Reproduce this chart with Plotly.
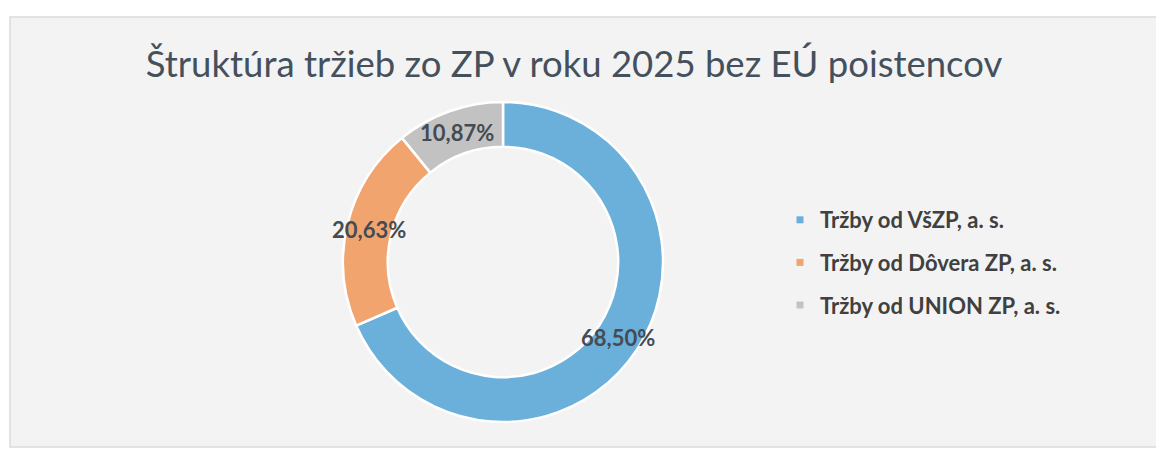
import math
import plotly.graph_objects as go

title_text = "Štruktúra tržieb zo ZP v roku 2025 bez EÚ poistencov"
categories = ["Tržby od VšZP, a. s.", "Tržby od Dôvera ZP, a. s.", "Tržby od UNION ZP, a. s."]
shares = [68.50, 20.63, 10.87]
colors = ["#6bb0da", "#f2a46f", "#c2c2c2"]

# figure size (page adds an 8px body margin)
W, H = 1156, 445

# pie geometry in figure pixels
CX, CY, R = 495, 254, 160
HOLE = 0.72

fig = go.Figure()

fig.add_trace(go.Pie(
    labels=categories,
    values=shares,
    sort=False,
    direction="clockwise",
    rotation=0,
    hole=HOLE,
    marker=dict(colors=colors, line=dict(color="#ffffff", width=2.5)),
    textinfo="none",
    domain=dict(x=[(CX - R) / W, (CX + R) / W], y=[(H - CY - R) / H, (H - CY + R) / H]),
    showlegend=False,
    hoverinfo="label+percent",
))

for name, col in zip(categories, colors):
    fig.add_trace(go.Scatter(
        x=[None], y=[None], mode="markers",
        marker=dict(symbol="square", size=7, color=col),
        name=name, legendgroup=name, showlegend=True,
    ))

# slice labels placed at the middle of each ring segment
annotations = []
total = sum(shares)
cum = 0.0
r_mid = R * (1 + HOLE) / 2
for v in shares:
    ang = 2 * math.pi * (cum + v / 2) / total
    cum += v
    px = CX + r_mid * math.sin(ang)
    py = CY - r_mid * math.cos(ang)
    annotations.append(dict(
        x=px / W, y=1 - py / H, xref="paper", yref="paper",
        text=f"{v:.2f}%".replace(".", ","), showarrow=False,
        xanchor="center", yanchor="middle",
        font=dict(family="Lato", size=22, color="#444b52", weight="bold"),
    ))

fig.update_layout(
    width=W, height=H,
    margin=dict(l=0, r=0, t=0, b=0),
    paper_bgcolor="#ffffff",
    plot_bgcolor="rgba(0,0,0,0)",
    xaxis=dict(visible=False),
    yaxis=dict(visible=False),
    annotations=annotations,
    title=dict(
        text=title_text,
        x=566 / W, xanchor="center",
        y=1 - 56 / H, yanchor="middle",
        font=dict(family="Lato", size=36.5, color="#44505c"),
    ),
    legend=dict(
        x=772 / W, xanchor="left",
        y=1 - 191 / H, yanchor="top",
        font=dict(family="Lato", size=22, color="#404040", weight="bold"),
        tracegroupgap=11,
        bgcolor="rgba(0,0,0,0)",
    ),
    shapes=[dict(
        type="rect", xref="paper", yref="paper",
        x0=2 / W, x1=1.01, y0=6 / H, y1=1 - 9 / H,
        fillcolor="#f3f3f3", line=dict(color="#dadada", width=1.5),
        layer="below",
    )],
)

fig.write_html("out.html")
